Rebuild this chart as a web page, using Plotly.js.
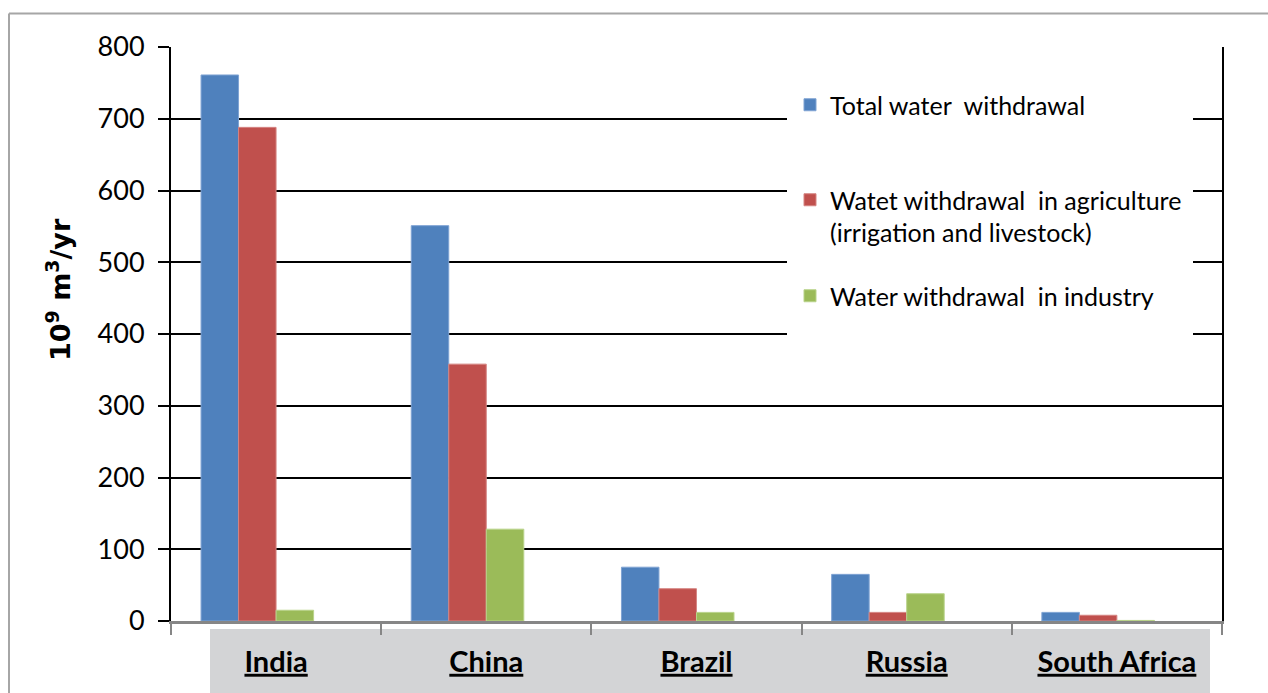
<!DOCTYPE html>
<html>
<head>
<meta charset="utf-8">
<script src="https://cdn.plot.ly/plotly-3.0.1.min.js"></script>
<style>
  html, body { margin: 0; padding: 0; background: #ffffff; }
  #chart { width: 1268px; height: 693px; }
</style>
</head>
<body>
<div id="chart"></div>
<script>
// ---- data ----
const countries = ["India", "China", "Brazil", "Russia", "South Africa"];
const totalWithdrawal = [761, 551, 75, 65, 12];
const agricultureWithdrawal = [688, 358, 45, 12, 8];
const industryWithdrawal = [15, 128, 12, 38, 0.8];

const seriesNames = [
  "Total water\u00a0 withdrawal",
  "Watet withdrawal\u00a0 in agriculture<br>(irrigation and livestock)",
  "Water withdrawal\u00a0 in industry"
];
const yTickValues = [0, 100, 200, 300, 400, 500, 600, 700, 800];

// ---- styling ----
const FONT = 'Lato, "Open Sans", sans-serif';
const colors = ["#4F81BD", "#C0504D", "#9BBB59"];
const edge = ["#7FA3D3", "#D58482", "#B9D38A"];
const barWidth = 0.1784;
const offsets = [-0.357, -0.1786, 0.0];
const series = [totalWithdrawal, agricultureWithdrawal, industryWithdrawal];
const legendIds = ["legend", "legend2", "legend3"];

const traces = series.map((vals, i) => ({
  type: "bar",
  name: seriesNames[i],
  x: countries,
  y: vals,
  width: barWidth,
  offset: offsets[i],
  marker: { color: colors[i], line: { color: edge[i], width: 1 } },
  legend: legendIds[i],
  hoverinfo: "x+y+name"
}));

// paper-coordinate helpers (plot area: x 171..1222, y 47..621 px)
const L = 171, R = 1222, T = 47, B = 621;
const px = v => (v - L) / (R - L);
const py = v => (B - v) / (B - T);

const legendCommon = {
  bgcolor: "rgba(0,0,0,0)",
  borderwidth: 0,
  font: { family: FONT, size: 25, color: "#000000" },
  xanchor: "left",
  yanchor: "top",
  valign: "top",
  orientation: "v"
};

const layout = {
  width: 1268,
  height: 693,
  margin: { l: L, r: 1268 - R, t: T, b: 693 - B },
  paper_bgcolor: "#ffffff",
  plot_bgcolor: "#ffffff",
  barmode: "overlay",
  showlegend: true,
  legend: Object.assign({}, legendCommon, { x: px(790), y: py(82) }),
  legend2: Object.assign({}, legendCommon, { x: px(790), y: py(177) }),
  legend3: Object.assign({}, legendCommon, { x: px(790), y: py(273) }),
  xaxis: {
    type: "category",
    showgrid: false,
    zeroline: false,
    showline: true,
    linecolor: "#868686",
    linewidth: 3,
    ticks: "outside",
    tickson: "boundaries",
    ticklen: 11,
    tickwidth: 2,
    tickcolor: "#868686",
    ticklabelstandoff: 13,
    tickfont: { family: FONT, size: 29, color: "#000000", weight: "bold", lineposition: "under" },
    fixedrange: true
  },
  yaxis: {
    range: [0, 800],
    tickvals: yTickValues,
    ticktext: yTickValues.map(String),
    showgrid: true,
    gridcolor: "#000000",
    gridwidth: 2,
    zeroline: false,
    showline: true,
    linecolor: "#000000",
    linewidth: 2,
    mirror: true,
    ticks: "outside",
    ticklen: 11,
    tickwidth: 2,
    tickcolor: "#000000",
    ticklabelstandoff: 8,
    tickfont: { family: FONT, size: 27, color: "#000000" },
    fixedrange: true
  },
  annotations: [
    {
      xref: "paper", yref: "paper",
      x: px(58), y: py(290),
      xanchor: "center", yanchor: "middle",
      textangle: -90,
      showarrow: false,
      text: "<b>10<sup>9</sup> m<sup>3</sup>/yr</b>",
      font: { family: '"DejaVu Sans", sans-serif', size: 27, color: "#000000" }
    }
  ],
  shapes: [
    // grey band behind category labels
    {
      type: "rect", xref: "paper", yref: "paper", layer: "below",
      x0: px(210), x1: px(1210), y0: py(629), y1: py(700),
      fillcolor: "#D3D4D6", line: { width: 0 }
    },
    // white box behind legend (interrupts gridlines)
    {
      type: "rect", xref: "paper", yref: "paper", layer: "above",
      x0: px(787), x1: px(1193), y0: py(345), y1: py(70),
      fillcolor: "#ffffff", line: { width: 0 }
    },
    // outer chart border (top and left)
    {
      type: "line", xref: "paper", yref: "paper", layer: "above",
      x0: px(9), x1: px(1275), y0: py(13.5), y1: py(13.5),
      line: { color: "#A6A6A6", width: 2 }
    },
    {
      type: "line", xref: "paper", yref: "paper", layer: "above",
      x0: px(9), x1: px(9), y0: py(13.5), y1: py(700),
      line: { color: "#A6A6A6", width: 2 }
    }
  ]
};

Plotly.newPlot("chart", traces, layout, { displayModeBar: false, responsive: false });
</script>
</body>
</html>
